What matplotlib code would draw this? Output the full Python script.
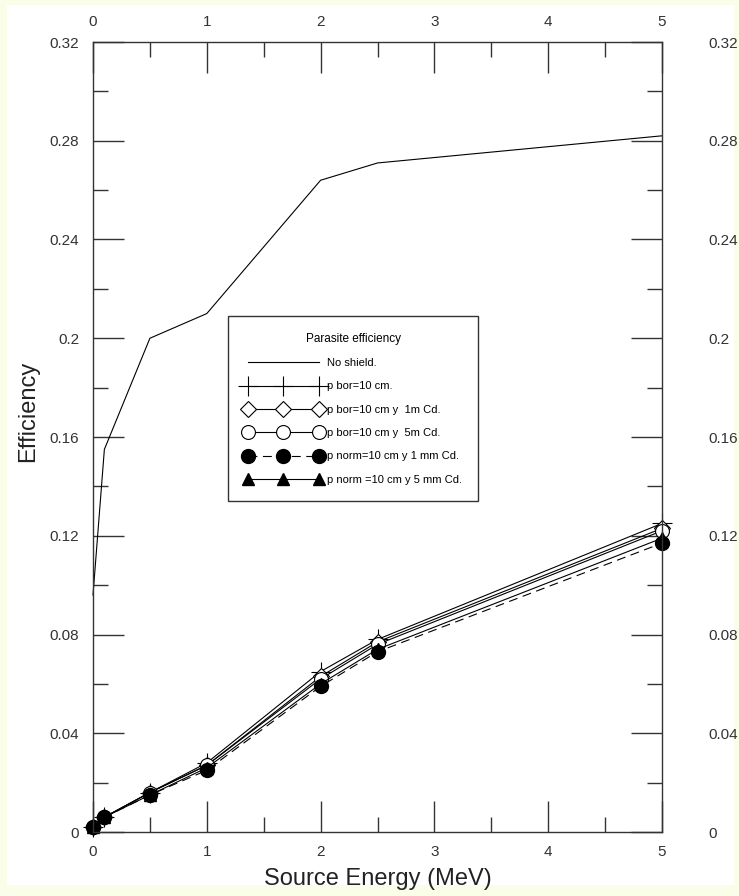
import numpy as np
import matplotlib
matplotlib.use("Agg")
import matplotlib.pyplot as plt
from matplotlib.patches import Rectangle
from matplotlib.ticker import MultipleLocator
from matplotlib.transforms import ScaledTranslation

plt.rcParams['font.family'] = ['Liberation Sans', 'DejaVu Sans']

# source energy (MeV)
energy = [0, 0.1, 0.5, 1, 2, 2.5, 5]

# efficiencies
no_shield = [0.096, 0.155, 0.200, 0.210, 0.264, 0.271, 0.282]
bor_10 = [0.002, 0.006, 0.016, 0.028, 0.065, 0.078, 0.125]
bor_10_1m = [0.002, 0.006, 0.016, 0.027, 0.063, 0.077, 0.123]
bor_10_5m = [0.002, 0.006, 0.016, 0.027, 0.062, 0.076, 0.122]
norm_1mm = [0.002, 0.006, 0.015, 0.025, 0.059, 0.073, 0.117]
norm_5mm = [0.002, 0.006, 0.015, 0.026, 0.060, 0.074, 0.119]

labels = ["No shield.", "p bor=10 cm.", "p bor=10 cm y  1m Cd.",
          "p bor=10 cm y  5m Cd.", "p norm=10 cm y 1 mm Cd.",
          "p norm =10 cm y 5 mm Cd."]
yticks = [0, 0.04, 0.08, 0.12, 0.16, 0.2, 0.24, 0.28, 0.32]
ytick_labels = ['0', '0.04', '0.08', '0.12', '0.16', '0.2', '0.24', '0.28', '0.32']


def main():
    fig = plt.figure(figsize=(7.39, 8.96), dpi=100, facecolor='#fafde8')
    fig.patches.append(Rectangle((7/739, 11/896), 727/739, 880/896,
                                 transform=fig.transFigure, facecolor='white',
                                 edgecolor='none', zorder=-1))
    ax = fig.add_axes([93/739, 64/896, 569/739, 790/896])
    ax.set_facecolor('white')

    lw = 0.8
    kw = dict(color='k', lw=lw, clip_on=False)
    ax.plot(energy, no_shield, label=labels[0], **kw)
    ax.plot(energy, bor_10, marker='+', ms=14, mew=0.8, label=labels[1], **kw)
    ax.plot(energy, bor_10_1m, marker='D', ms=8, mfc='white', mew=0.8,
            label=labels[2], **kw)
    ax.plot(energy, bor_10_5m, marker='o', ms=10, mfc='white', mew=0.8,
            label=labels[3], **kw)
    ax.plot(energy, norm_1mm, ls=(0, (8, 5)), marker='o', ms=10,
            label=labels[4], **kw)
    ax.plot(energy, norm_5mm, marker='^', ms=9, label=labels[5], **kw)

    ax.set_xlim(0, 5)
    ax.set_ylim(0, 0.32)
    ax.xaxis.set_major_locator(MultipleLocator(1))
    ax.xaxis.set_minor_locator(MultipleLocator(0.5))
    ax.set_yticks(yticks)
    ax.set_yticklabels(ytick_labels)
    ax.yaxis.set_minor_locator(MultipleLocator(0.02))

    ax.tick_params(which='both', direction='in', color='#333333', width=1,
                   top=True, right=True, labeltop=True, labelright=True,
                   labelsize=11, labelcolor='#333333')
    ax.tick_params(which='major', length=22)
    ax.tick_params(which='minor', length=11)
    ax.tick_params(axis='y', which='both', pad=10)
    ax.tick_params(axis='x', which='both', pad=9)
    # right labels sit well away from the frame
    for t in ax.yaxis.get_major_ticks():
        t.label2.set_transform(t.label2.get_transform() +
                               ScaledTranslation(32/100, 0, fig.dpi_scale_trans))
    for sp in ax.spines.values():
        sp.set_color('#333333')
        sp.set_linewidth(1)

    ax.set_xlabel("Source Energy (MeV)", fontsize=17, color='#222222')
    ax.xaxis.set_label_coords(0.5, -0.046)
    ax.set_ylabel("Efficiency", fontsize=17, color='#222222')
    ax.yaxis.set_label_coords(-0.095, 0.532)

    leg = ax.legend(loc='upper left', bbox_to_anchor=(0.237, 0.653),
                    borderaxespad=0, numpoints=3, handlelength=7.0,
                    fontsize=8, title="Parasite efficiency",
                    title_fontsize=8.5,
                    fancybox=False, edgecolor='#333333',
                    framealpha=1, labelspacing=1.2, handletextpad=0.4,
                    borderpad=1.5)
    leg.get_frame().set_linewidth(1)

    fig.savefig("out.png", dpi=100, facecolor=fig.get_facecolor())


if __name__ == "__main__":
    main()
